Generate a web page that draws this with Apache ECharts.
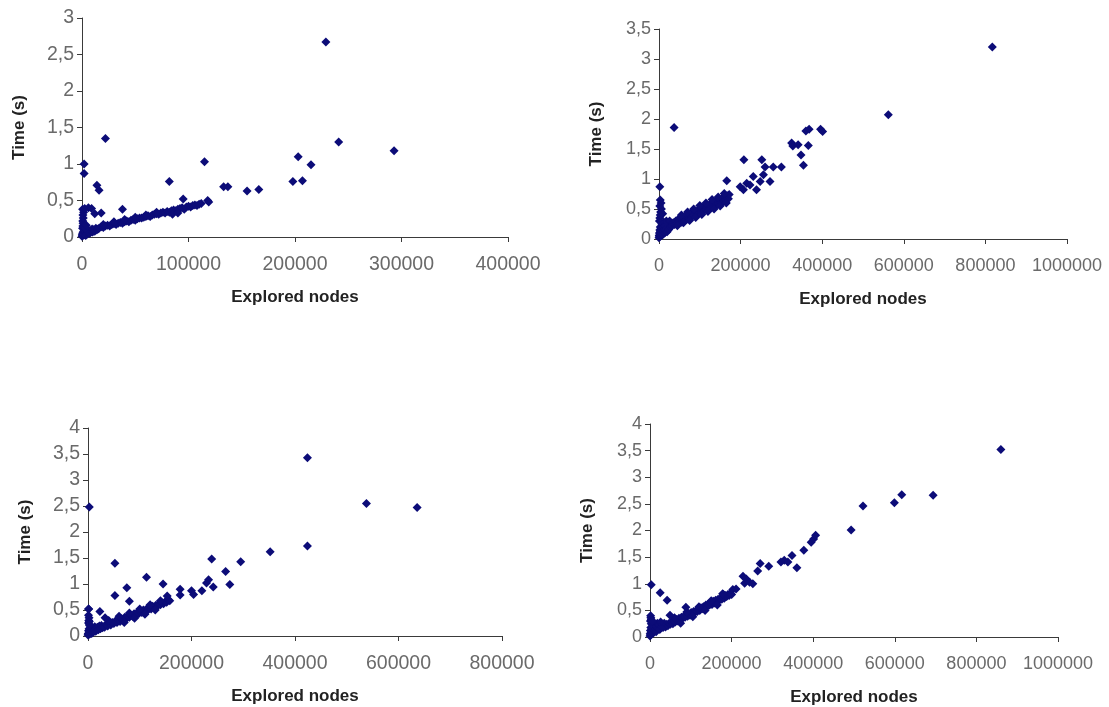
<!DOCTYPE html>
<html>
<head>
<meta charset="utf-8">
<script src="https://cdn.jsdelivr.net/npm/echarts@6/dist/echarts.min.js"></script>
<style>
html,body{margin:0;padding:0;background:#fff;}
#chart{width:1109px;height:707px;}
</style>
</head>
<body>
<div id="chart"></div>
<script>
// ---- data: [explored nodes, time (s)] ----
const run1 = [
  [0,0.01],[300,0.03],[600,0.05],[900,0.02],[1200,0.07],[1500,0.04],[2000,0.09],[2500,0.03],[3000,0.06],[3500,0.02],
  [4000,0.08],[4500,0.05],[5000,0.04],[5500,0.1],[6000,0.07],[7000,0.05],[7500,0.09],[8000,0.06],[9000,0.08],[9500,0.11],
  [10000,0.07],[11000,0.1],[12000,0.08],[13000,0.12],[14000,0.1],[15000,0.11],
  [500,0.12],[800,0.15],[1000,0.19],[700,0.22],[1200,0.26],[900,0.3],[1500,0.34],[600,0.38],[2500,0.39],[1800,0.14],[3000,0.12],[4000,0.16],
  [16000,0.12],[18000,0.14],[20000,0.13],[22000,0.15],[24000,0.16],[26000,0.15],[28000,0.17],[30000,0.18],[32000,0.17],[34000,0.19],
  [36000,0.2],[38000,0.19],[40000,0.21],[42000,0.22],[44000,0.21],[46000,0.23],[48000,0.24],[50000,0.23],[52000,0.25],[54000,0.26],
  [56000,0.26],[58000,0.27],[60000,0.28],[62000,0.29],[64000,0.28],[66000,0.3],[68000,0.31],[70000,0.32],[72000,0.31],[74000,0.33],
  [76000,0.34],[78000,0.33],[80000,0.35],[82000,0.34],[84000,0.36],[86000,0.37],[88000,0.36],[90000,0.38],[92000,0.39],[94000,0.4],
  [96000,0.38],[98000,0.41],[100000,0.42],[102000,0.41],[104000,0.43],[106000,0.44],[108000,0.43],[110000,0.45],[112000,0.46],
  [20000,0.17],[30000,0.21],[40000,0.24],[50000,0.27],[60000,0.3],[70000,0.34],[85000,0.31],[90000,0.33],
  [2000,1.0],[2000,0.87],[14000,0.71],[16000,0.64],[6000,0.4],[9000,0.39],[12000,0.32],[18000,0.33],[38000,0.38],[22000,1.35],
  [82000,0.76],[95000,0.52],[115000,1.03],[118000,0.5],[119000,0.48],[133000,0.69],[137000,0.69],[155000,0.63],[166000,0.65],
  [198000,0.76],[203000,1.1],[207000,0.77],[215000,0.99],[229000,2.67],[241000,1.3],[293000,1.18]
];
const run2 = [
  [0,0.02],[500,0.06],[1000,0.1],[1500,0.04],[2000,0.15],[2500,0.08],[3000,0.2],[3500,0.12],[4000,0.05],[5000,0.18],
  [6000,0.1],[7000,0.25],[8000,0.14],[9000,0.07],[10000,0.2],[11000,0.12],[12000,0.28],[13000,0.16],[14000,0.1],[15000,0.22],
  [16000,0.14],[18000,0.3],[19000,0.18],[20000,0.12],[22000,0.24],[24000,0.16],[26000,0.3],[28000,0.2],[30000,0.22],[1000,0.3],[2000,0.35],
  [2000,0.87],[3000,0.65],[5000,0.6],[2000,0.55],[6000,0.5],[4000,0.45],[9000,0.42],[3000,0.4],
  [32000,0.22],[35000,0.27],[38000,0.24],[41000,0.3],[44000,0.26],[47000,0.33],[50000,0.29],[53000,0.34],[56000,0.28],[59000,0.36],
  [62000,0.31],[65000,0.38],[68000,0.33],[71000,0.4],[74000,0.34],[77000,0.42],[80000,0.37],[83000,0.44],[86000,0.39],[89000,0.46],
  [92000,0.4],[95000,0.48],[98000,0.43],[101000,0.5],[104000,0.44],[107000,0.52],[110000,0.47],[113000,0.54],[116000,0.49],[119000,0.56],
  [122000,0.5],[125000,0.58],[128000,0.53],[131000,0.6],[134000,0.55],[137000,0.62],[140000,0.56],[143000,0.64],[146000,0.59],[149000,0.66],
  [152000,0.6],[155000,0.68],[158000,0.63],[161000,0.7],[164000,0.65],[167000,0.72],[170000,0.67],[172000,0.74],
  [45000,0.22],[60000,0.27],[75000,0.31],[90000,0.36],[105000,0.41],[120000,0.46],[135000,0.5],[150000,0.55],[165000,0.6],
  [55000,0.4],[70000,0.45],[85000,0.5],[100000,0.56],[115000,0.6],[130000,0.66],[145000,0.7],[160000,0.76],
  [37000,1.86],[166000,0.97],[199000,0.87],[207000,0.82],[208000,1.32],[215000,0.93],[223000,0.9],[231000,1.04],[239000,0.82],[248000,0.96],
  [252000,1.32],[256000,1.07],[260000,1.2],[272000,0.96],[280000,1.2],[300000,1.2],[325000,1.6],[328000,1.55],[341000,1.57],[348000,1.4],
  [354000,1.23],[360000,1.8],[366000,1.56],[368000,1.83],[396000,1.83],[401000,1.79],[562000,2.07],[817000,3.2]
];
const run3 = [
  [0,0.02],[500,0.05],[1000,0.1],[1500,0.03],[2000,0.14],[2500,0.07],[3000,0.2],[3500,0.04],[4000,0.12],[5000,0.08],
  [6000,0.16],[7000,0.05],[8000,0.1],[9000,0.13],[10000,0.07],[11000,0.15],[12000,0.1],[13000,0.18],[14000,0.12],[15000,0.09],
  [16000,0.14],[18000,0.17],[20000,0.12],[22000,0.19],[24000,0.14],[26000,0.2],[28000,0.16],[30000,0.18],
  [1000,0.25],[1500,0.3],[2000,0.35],[1000,0.4],[2500,0.28],[1500,0.52],[3000,0.22],
  [32000,0.17],[35000,0.22],[38000,0.19],[41000,0.25],[44000,0.21],[47000,0.26],[50000,0.24],[53000,0.29],[56000,0.26],[59000,0.31],
  [62000,0.28],[65000,0.33],[68000,0.31],[71000,0.36],[74000,0.33],[77000,0.38],[80000,0.36],[83000,0.4],[86000,0.38],[89000,0.43],
  [92000,0.4],[95000,0.45],[98000,0.43],[101000,0.47],[104000,0.45],[107000,0.5],[110000,0.47],[113000,0.52],[116000,0.5],[119000,0.54],
  [122000,0.52],[125000,0.57],[128000,0.55],[131000,0.59],[134000,0.57],[137000,0.62],[140000,0.6],[143000,0.64],[146000,0.62],[149000,0.66],
  [152000,0.65],[155000,0.7],[158000,0.68],
  [40000,0.3],[60000,0.38],[80000,0.44],[100000,0.52],[120000,0.6],[140000,0.68],[70000,0.26],[90000,0.34],[110000,0.42],[130000,0.5],
  [2500,2.48],[1000,0.52],[23000,0.47],[33000,0.35],[52000,1.4],[52000,0.78],[75000,0.93],[80000,0.67],[113000,1.13],[145000,1.0],
  [153000,0.77],[178000,0.9],[178000,0.79],[200000,0.87],[204000,0.8],[220000,0.87],[229000,1.02],[233000,1.08],[239000,1.48],[242000,0.94],
  [266000,1.24],[274000,0.99],[295000,1.43],[352000,1.62],[424000,3.43],[424000,1.73],[538000,2.55],[636000,2.47]
];
const run4 = [
  [0,0.02],[500,0.06],[1000,0.12],[1500,0.04],[2000,0.18],[2500,0.09],[3000,0.25],[3500,0.05],[4000,0.15],[5000,0.1],
  [6000,0.2],[7000,0.07],[8000,0.14],[9000,0.22],[10000,0.1],[11000,0.17],[12000,0.12],[13000,0.24],[14000,0.15],[15000,0.1],
  [16000,0.2],[18000,0.26],[20000,0.16],[22000,0.22],[24000,0.14],[26000,0.28],[28000,0.19],[30000,0.24],[32000,0.18],[35000,0.26],
  [1000,0.3],[2000,0.36],[1500,0.4],[3000,0.33],[5000,0.3],
  [38000,0.19],[41000,0.24],[44000,0.21],[47000,0.26],[50000,0.24],[53000,0.28],[56000,0.25],[59000,0.3],[62000,0.28],[65000,0.33],
  [68000,0.3],[71000,0.35],[74000,0.32],[77000,0.37],[80000,0.35],[83000,0.39],[86000,0.37],[89000,0.42],[92000,0.39],[95000,0.44],
  [98000,0.41],[101000,0.46],[104000,0.44],[107000,0.48],[110000,0.46],[113000,0.5],[116000,0.48],[119000,0.53],[122000,0.5],[125000,0.55],
  [128000,0.53],[131000,0.57],[134000,0.55],[137000,0.6],[140000,0.57],[143000,0.62],[146000,0.6],[149000,0.64],[152000,0.61],[155000,0.67],
  [158000,0.64],[161000,0.69],[164000,0.66],[167000,0.71],[170000,0.69],[173000,0.73],[176000,0.71],[179000,0.75],[182000,0.73],[185000,0.78],
  [188000,0.76],[191000,0.8],[194000,0.78],[197000,0.82],[200000,0.8],
  [60000,0.36],[90000,0.47],[120000,0.57],[150000,0.68],[180000,0.8],[75000,0.26],[105000,0.38],[135000,0.5],[165000,0.6],
  [3000,0.98],[25000,0.83],[42000,0.69],[88000,0.56],[49000,0.41],[178000,0.81],[203000,0.89],[211000,0.9],[228000,1.14],[232000,1.01],
  [236000,1.09],[244000,1.03],[252000,1.0],[264000,1.24],[270000,1.38],[291000,1.33],[321000,1.41],[329000,1.44],[338000,1.41],[348000,1.53],
  [360000,1.3],[377000,1.63],[395000,1.78],[401000,1.84],[406000,1.91],[493000,2.01],[522000,2.46],[599000,2.52],[617000,2.67],[694000,2.66],[860000,3.52]
];
// axis ranges
const xMax = [400000, 1000000, 800000, 1000000];
const xStep = [100000, 200000, 200000, 200000];
const yMax = [3, 3.5, 4, 4];
const yStep = [0.5, 0.5, 0.5, 0.5];
const xTitle = 'Explored nodes';
const yTitle = 'Time (s)';
const runs = [run1, run2, run3, run4];

// ---- layout ----
const grids = [
  {left: 82, right: 601, top: 18, bottom: 470},
  {left: 659, right: 42, top: 29, bottom: 468},
  {left: 88, right: 607, top: 428, bottom: 71},
  {left: 650, right: 51, top: 424, bottom: 70}
];
const tickFont = [19.5, 18, 19.5, 18];
const FONT = '"Liberation Sans", Arial, sans-serif';
const axisLineStyle = {color: '#3a3a3a', width: 1};

const chart = echarts.init(document.getElementById('chart'), null, {renderer: 'canvas'});
const option = {
  backgroundColor: '#ffffff',
  animation: false,
  grid: grids.map(g => Object.assign({containLabel: false, outerBoundsMode: 'none'}, g)),
  xAxis: runs.map((r, i) => ({
    type: 'value', gridIndex: i, min: 0, max: xMax[i], interval: xStep[i],
    name: xTitle, nameLocation: 'middle', nameGap: 52,
    nameTextStyle: {fontFamily: FONT, fontWeight: 'bold', fontSize: 17, color: '#222'},
    axisLine: {show: true, lineStyle: axisLineStyle},
    axisTick: {show: true, length: 5, lineStyle: axisLineStyle},
    axisLabel: {fontFamily: FONT, fontSize: tickFont[i], color: '#6a6a6a', margin: 18, showMaxLabel: true, showMinLabel: true,
      formatter: v => String(v)},
    splitLine: {show: false}
  })),
  yAxis: runs.map((r, i) => ({
    type: 'value', gridIndex: i, min: 0, max: yMax[i], interval: yStep[i],
    name: yTitle, nameLocation: 'middle', nameGap: 54,
    nameTextStyle: {fontFamily: FONT, fontWeight: 'bold', fontSize: 17, color: '#222'},
    axisLine: {show: true, lineStyle: axisLineStyle},
    axisTick: {show: true, length: 5, lineStyle: axisLineStyle},
    axisLabel: {fontFamily: FONT, fontSize: tickFont[i], color: '#6a6a6a', margin: 8,
      formatter: v => String(v).replace('.', ',')},
    splitLine: {show: false}
  })),
  series: runs.map((r, i) => ({
    type: 'scatter', xAxisIndex: i, yAxisIndex: i, data: r,
    symbol: 'diamond', symbolSize: 9,
    itemStyle: {color: '#0c0c78', opacity: 1},
    emphasis: {disabled: true}
  }))
};
chart.setOption(option);
</script>
</body>
</html>
